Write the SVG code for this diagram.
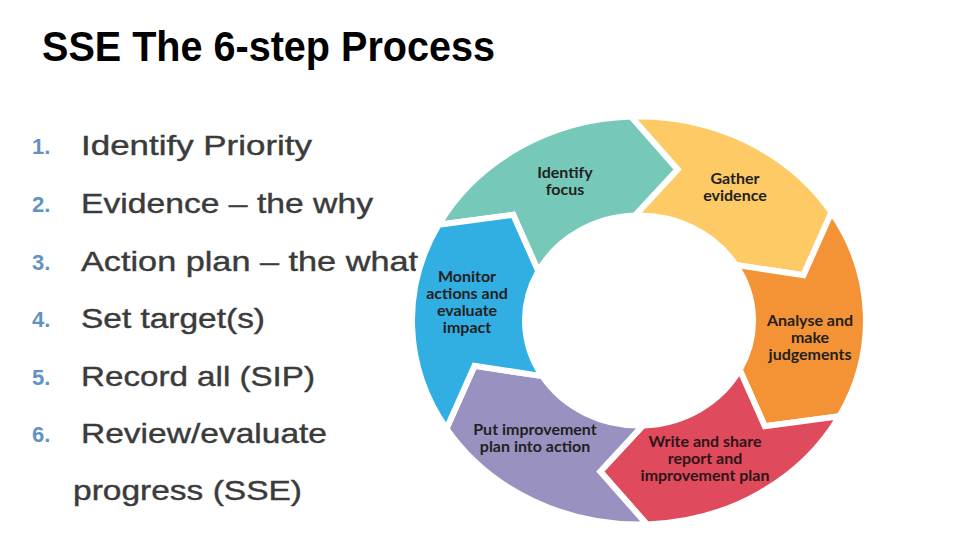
<svg xmlns="http://www.w3.org/2000/svg" width="960" height="540" viewBox="0 0 960 540">
<style>
.title{font-family:"Liberation Sans",Arial,sans-serif;font-weight:700;font-size:42px;fill:#000}
.num{font-family:"Liberation Sans",Arial,sans-serif;font-weight:700;font-size:22px;fill:#5f93c4}
.item{font-family:"Liberation Sans",Arial,sans-serif;font-size:28px;fill:#3b3b3b;stroke:#3b3b3b;stroke-width:0.4}
.seg{stroke:#fff;stroke-width:6;stroke-linejoin:miter;stroke-miterlimit:10}
.lbl{font-family:Lato,"Open Sans",sans-serif;font-weight:700;font-size:16px;fill:#231f20;text-anchor:middle}
</style>
<rect width="960" height="540" fill="#fff"/>
<text class="title" x="42" y="61" textLength="453" lengthAdjust="spacingAndGlyphs">SSE The 6-step Process</text>
<g id="list">
<text class="num" x="32" y="154">1.</text>
<text class="item" x="81" y="155" textLength="231" lengthAdjust="spacingAndGlyphs">Identify Priority</text>
<text class="num" x="32" y="212">2.</text>
<text class="item" x="81" y="213" textLength="292" lengthAdjust="spacingAndGlyphs">Evidence – the why</text>
<text class="num" x="32" y="270">3.</text>
<text class="item" x="81" y="271" textLength="337" lengthAdjust="spacingAndGlyphs">Action plan – the what</text>
<text class="num" x="32" y="327">4.</text>
<text class="item" x="81" y="328" textLength="184" lengthAdjust="spacingAndGlyphs">Set target(s)</text>
<text class="num" x="32" y="385">5.</text>
<text class="item" x="81" y="386" textLength="234" lengthAdjust="spacingAndGlyphs">Record all (SIP)</text>
<text class="num" x="32" y="442">6.</text>
<text class="item" x="81" y="443" textLength="246" lengthAdjust="spacingAndGlyphs">Review/evaluate</text>
<text class="item" x="73" y="500" textLength="229" lengthAdjust="spacingAndGlyphs">progress (SSE)</text>
</g>
<g id="connectors"></g>
<g id="identify-focus">
<path class="seg" fill="#76c8b9" d="M438.6,224.7 A227,204 0 0 1 631.1,116.6 L677.7,169.5 L635.0,215.6 A114,105 0 0 0 538.3,271.2 L513.2,214.8 Z"/>
<text class="lbl"><tspan x="565" y="178">Identify</tspan><tspan x="565" y="195">focus</tspan></text>
</g>
<g id="gather-evidence">
<path class="seg" fill="#fdca66" d="M631.1,116.6 A227,204 0 0 1 831.5,212.4 L803.5,275.2 L735.7,264.9 A114,105 0 0 0 635.0,215.6 L677.7,169.5 Z"/>
<text class="lbl"><tspan x="735" y="184">Gather</tspan><tspan x="735" y="201">evidence</tspan></text>
</g>
<g id="analyse">
<path class="seg" fill="#f49236" d="M831.5,212.4 A227,204 0 0 1 839.4,416.3 L764.8,426.2 L739.7,369.8 A114,105 0 0 0 735.7,264.9 L803.5,275.2 Z"/>
<text class="lbl"><tspan x="810" y="326">Analyse and</tspan><tspan x="810" y="343">make</tspan><tspan x="810" y="360">judgements</tspan></text>
</g>
<g id="write-report">
<path class="seg" fill="#df4a5c" d="M839.4,416.3 A227,204 0 0 1 646.9,524.4 L600.3,471.5 L643.0,425.4 A114,105 0 0 0 739.7,369.8 L764.8,426.2 Z"/>
<text class="lbl" style="fill:#2e1519"><tspan x="705" y="447">Write and share</tspan><tspan x="705" y="464">report and</tspan><tspan x="705" y="481">improvement plan</tspan></text>
</g>
<g id="put-plan">
<path class="seg" fill="#9991c0" d="M646.9,524.4 A227,204 0 0 1 446.5,428.6 L474.5,365.8 L542.3,376.1 A114,105 0 0 0 643.0,425.4 L600.3,471.5 Z"/>
<text class="lbl"><tspan x="535" y="435">Put improvement</tspan><tspan x="535" y="452">plan into action</tspan></text>
</g>
<g id="monitor">
<path class="seg" fill="#31aee2" d="M446.5,428.6 A227,204 0 0 1 438.6,224.7 L513.2,214.8 L538.3,271.2 A114,105 0 0 0 542.3,376.1 L474.5,365.8 Z"/>
<text class="lbl"><tspan x="467" y="282">Monitor</tspan><tspan x="467" y="299">actions and</tspan><tspan x="467" y="316">evaluate</tspan><tspan x="467" y="333">impact</tspan></text>
</g>
</svg>
